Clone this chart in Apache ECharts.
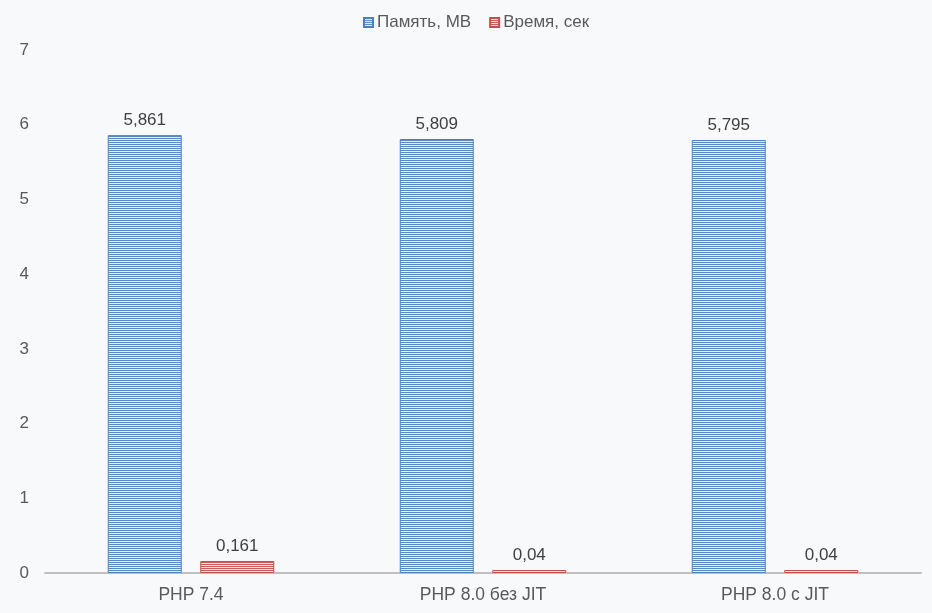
<!DOCTYPE html>
<html><head><meta charset="utf-8">
<script src="https://cdn.jsdelivr.net/npm/echarts@6/dist/echarts.min.js"></script>
<style>html,body{margin:0;padding:0;background:#f8f9fa;}#c{width:932px;height:613px;}</style>
</head><body><div id="c"></div>
<script>
const categories = ['PHP 7.4', 'PHP 8.0 без JIT', 'PHP 8.0 с JIT'];
const memoryMB = [5.861, 5.809, 5.795];
const timeSec = [0.161, 0.04, 0.04];
const seriesNames = ['Память, МB', 'Время, сек'];

function stripe(c1, c2) {
  const cv = document.createElement('canvas');
  cv.width = 4; cv.height = 2;
  const ctx = cv.getContext('2d');
  ctx.fillStyle = c1; ctx.fillRect(0, 0, 4, 1);
  ctx.fillStyle = c2; ctx.fillRect(0, 1, 4, 1);
  return { image: cv, repeat: 'repeat' };
}
const FF = 'Liberation Sans, Arial';
const fmt = p => String(p.value).replace('.', ',');
const chart = echarts.init(document.getElementById('c'));
chart.setOption({
  backgroundColor: '#f8f9fa',
  animation: false,
  legend: {
    top: 9, left: 358, itemWidth: 9, itemHeight: 9, itemGap: 18, icon: 'rect',
    textStyle: { color: '#595959', fontSize: 17, fontFamily: FF, padding: [0, 0, 0, -1] }
  },
  grid: { left: 45, right: 11, top: 50, bottom: 40 },
  xAxis: {
    type: 'category', data: categories,
    axisLine: { lineStyle: { color: '#bfbfbf', width: 2 } },
    axisTick: { show: false },
    axisLabel: { color: '#595959', fontSize: 17.5, margin: 13, fontFamily: FF }
  },
  yAxis: {
    type: 'value', min: 0, max: 7, interval: 1,
    splitLine: { show: false },
    axisLabel: { color: '#595959', fontSize: 17, margin: 16, fontFamily: FF }
  },
  series: [
    {
      name: seriesNames[0], type: 'bar', data: memoryMB,
      barWidth: 74, barGap: '25%',
      itemStyle: { color: stripe('#5b87c2', '#e8eef6'), borderColor: '#4f7fbf', borderWidth: 1 },
      label: { show: true, position: 'top', distance: 6, color: '#404040', fontSize: 17, fontFamily: FF, formatter: fmt }
    },
    {
      name: seriesNames[1], type: 'bar', data: timeSec,
      barWidth: 74,
      itemStyle: { color: stripe('#c9595a', '#f6e3e3'), borderColor: '#c0504d', borderWidth: 1 },
      label: { show: true, position: 'top', distance: 6, color: '#404040', fontSize: 17, fontFamily: FF, formatter: fmt }
    }
  ]
});
</script></body></html>
